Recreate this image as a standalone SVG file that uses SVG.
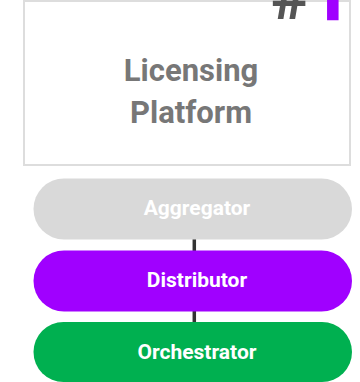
<svg xmlns="http://www.w3.org/2000/svg" width="360" height="382" viewBox="0 0 360 382">
  <style>
    .title { font-family: Roboto, "Liberation Sans", sans-serif; font-weight: 700; font-size: 31px; fill: #777777; text-anchor: middle; }
    .badge { font-family: Roboto, "Liberation Sans", sans-serif; font-weight: 700; font-size: 64px; }
    .pill-label { font-family: Roboto, "Liberation Sans", sans-serif; font-weight: 700; font-size: 21px; fill: #ffffff; text-anchor: middle; }
    .link { stroke: #333333; stroke-width: 3.5; }
  </style>

  <!-- platform panel -->
  <g id="licensing-platform">
    <rect x="24" y="1" width="326" height="164" fill="#ffffff" stroke="#dddddd" stroke-width="2"/>
    <text class="title" x="191" y="81">Licensing</text>
    <text class="title" x="191" y="123">Platform</text>
    <text class="badge" x="271" y="19" fill="#555555">#</text>
    <text class="badge" x="330.5" y="19" fill="#a000ff" stroke="#a000ff" stroke-width="2.5" text-anchor="middle">1</text>
  </g>

  <!-- links between layers -->
  <g id="connectors">
    <line class="link" x1="194.3" y1="238" x2="194.3" y2="251"/>
    <line class="link" x1="194.3" y1="311" x2="194.3" y2="323"/>
  </g>

  <g id="aggregator">
    <rect x="33.5" y="178.5" width="318.5" height="61" rx="30.5" fill="#d9d9d9"/>
    <text class="pill-label" x="197" y="215">Aggregator</text>
  </g>

  <g id="distributor">
    <rect x="33.5" y="250.5" width="318.5" height="61" rx="30.5" fill="#a000ff"/>
    <text class="pill-label" x="197" y="287">Distributor</text>
  </g>

  <g id="orchestrator">
    <rect x="33.5" y="322" width="318.5" height="60" rx="30" fill="#00b050"/>
    <text class="pill-label" x="197" y="359">Orchestrator</text>
  </g>
</svg>
